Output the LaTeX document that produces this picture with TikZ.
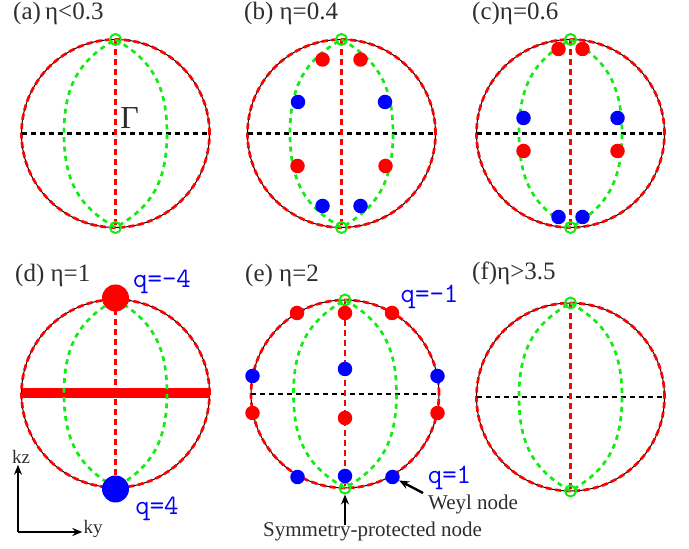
\documentclass[tikz,border=0pt]{standalone}
\usepackage{fontspec}
\setmainfont{Liberation Serif}
\usetikzlibrary{arrows.meta}

\definecolor{txtgray}{RGB}{45,45,45}
\definecolor{lgreen}{RGB}{20,235,20}

% one Brillouin-zone cut: rim, two axes and the green nodal line
\newcommand{\zone}[1]{%
  \draw[line width=1pt] (0,0) circle (94pt);
  \draw[rim] (0,0) circle (94pt);
  \draw[#1] (-94,0) -- (94,0);
  \draw[kzline] (0,94) -- (0,-94);
  \draw[lens] (0,94) .. controls (33,75) and (51.5,52) .. (51.5,0)
    .. controls (51.5,-52) and (33,-75) .. (0,-94)
    .. controls (-33,-75) and (-51.5,-52) .. (-51.5,0)
    .. controls (-51.5,52) and (-33,75) .. (0,94);
}
\newcommand{\poles}[1]{%
  \node[ring] (#1-top) at (0,94) {};
  \node[ring] (#1-bot) at (0,-94) {};
}

\begin{document}
\begin{tikzpicture}[x=1pt,y=1pt,
    rim/.style={red,line width=2.7pt,dash pattern=on 6pt off 3.5pt},
    kzline/.style={red,line width=2.9pt,dash pattern=on 6pt off 4pt},
    kyline/.style={black,line width=2.7pt,dash pattern=on 5pt off 4pt},
    bar/.style={red,line width=10pt},
    lens/.style={lgreen,line width=2.7pt,dash pattern=on 5pt off 4.5pt},
    ring/.style={circle,draw=lgreen,line width=2pt,inner sep=0pt,minimum size=11pt},
    rdot/.style={circle,fill=red,inner sep=0pt,minimum size=14.5pt},
    bdot/.style={circle,fill=blue,inner sep=0pt,minimum size=14.5pt},
    panel/.style={anchor=west,text=txtgray,font=\fontsize{25}{25}\selectfont,inner sep=0pt},
    qlab/.style={text=blue,font=\ttfamily\fontsize{28}{28}\selectfont,inner sep=0pt},
    note/.style={anchor=base west,text=txtgray,font=\fontsize{21}{21}\selectfont,inner sep=0pt},
    ptr/.style={-{Stealth[length=10pt,width=8pt]},line width=2.4pt}
]
\useasboundingbox (0,0) rectangle (689,549);

% (a)
\begin{scope}[shift={(115.5,415.5)}]
  \zone{kyline}
  \poles{a}
  \node[text=txtgray,font=\fontsize{32}{32}\selectfont,inner sep=0pt] (gam) at (14,15) {Γ};
\end{scope}

% (b)
\begin{scope}[shift={(341.5,415.5)}]
  \zone{kyline}
  \poles{b}
  \node[rdot] (b-r1) at (-19,74) {};
  \node[rdot] (b-r2) at (19,74) {};
  \node[bdot] (b-b1) at (-43.5,31.5) {};
  \node[bdot] (b-b2) at (43.5,31.5) {};
  \node[rdot] (b-r3) at (-44,-32.5) {};
  \node[rdot] (b-r4) at (44,-32.5) {};
  \node[bdot] (b-b3) at (-19,-72.5) {};
  \node[bdot] (b-b4) at (19,-72.5) {};
\end{scope}

% (c)
\begin{scope}[shift={(570.5,415.5)}]
  \zone{kyline}
  \poles{c}
  \node[rdot] (c-r1) at (-12,84.5) {};
  \node[rdot] (c-r2) at (12,84.5) {};
  \node[bdot] (c-b1) at (-47,15.5) {};
  \node[bdot] (c-b2) at (47,15.5) {};
  \node[rdot] (c-r3) at (-47,-17.5) {};
  \node[rdot] (c-r4) at (47,-17.5) {};
  \node[bdot] (c-b3) at (-12,-83.5) {};
  \node[bdot] (c-b4) at (12,-83.5) {};
\end{scope}

% (d)
\begin{scope}[shift={(115.5,155.5)}]
  \zone{bar}
  \node[rdot,minimum size=27pt] (d-top) at (0,95.5) {};
  \node[bdot,minimum size=27pt] (d-bot) at (0,-95.5) {};
\end{scope}

% (e)
\begin{scope}[shift={(345,155)}]
  \zone{kyline}
  \poles{e}
  \node[rdot] (e-r1) at (-48,81) {};
  \node[rdot] (e-r2) at (0,81) {};
  \node[rdot] (e-r3) at (47,81) {};
  \node[bdot] (e-b1) at (-92.5,18) {};
  \node[bdot] (e-b2) at (0,25) {};
  \node[bdot] (e-b3) at (92.5,18) {};
  \node[rdot] (e-r4) at (-92.5,-19) {};
  \node[rdot] (e-r5) at (0,-24) {};
  \node[rdot] (e-r6) at (92.5,-19) {};
  \node[bdot] (e-b4) at (-47.5,-83) {};
  \node[bdot] (e-b5) at (0,-82) {};
  \node[bdot] (e-b6) at (47.5,-83) {};
\end{scope}

% (f)
\begin{scope}[shift={(570.5,152)}]
  \zone{kyline}
  \poles{f}
\end{scope}

% panel titles
\node[panel] (ta) at (13,536) {(a)\,η<0.3};
\node[panel] (tb) at (244,536) {(b) η=0.4};
\node[panel] (tc) at (472,536) {(c)η=0.6};
\node[panel] (td) at (15,274) {(d) η=1};
\node[panel] (te) at (245,274) {(e) η=2};
\node[panel] (tf) at (472,276) {(f)η>3.5};

% charges
\node[qlab] (qm4) at (162,267) {q=-4};
\node[qlab] (qp4) at (157,40) {q=4};
\node[qlab] (qm1) at (429.5,252) {q=-1};
\node[qlab] (qp1) at (449.5,71) {q=1};

% node annotations
\node[note] (weyl) at (428,39) {Weyl node};
\node[note] (symm) at (263,12) {Symmetry-protected node};
\coordinate (weylptr) at (423,56);
\coordinate (symmptr) at (345,24);
\draw[ptr] (weylptr) -- (e-b6);
\draw[ptr] (symmptr) -- (e-bot);

% momentum axes
\coordinate (orig) at (18,17);
\node[text=txtgray,font=\fontsize{19}{19}\selectfont,inner sep=1pt] (kz) at (21,92) {kz};
\node[text=txtgray,font=\fontsize{19}{19}\selectfont,inner sep=1pt] (ky) at (93,20) {ky};
\draw[ptr,line width=2.2pt] (orig) -- (orig |- kz.south);
\draw[ptr,line width=2.2pt] (orig) -- (orig -| ky.west);
\end{tikzpicture}
\end{document}
